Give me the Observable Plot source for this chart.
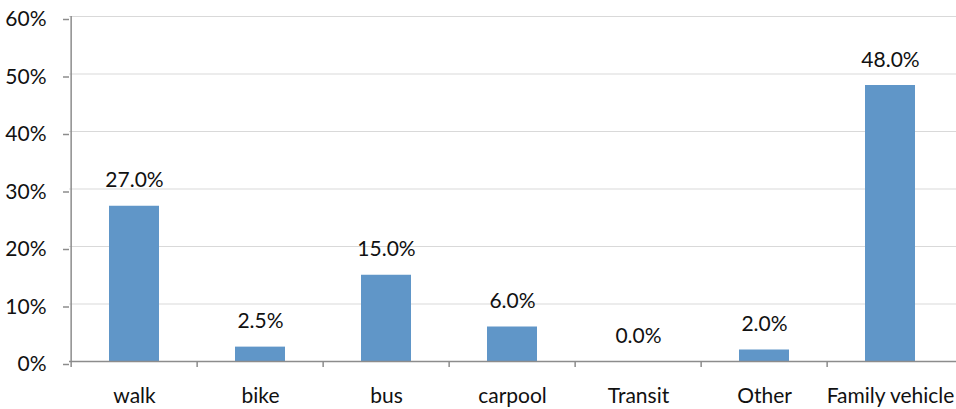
<!DOCTYPE html>
<html>
<head>
<meta charset="utf-8">
<script src="https://cdn.jsdelivr.net/npm/d3@7"></script>
<script src="https://cdn.jsdelivr.net/npm/@observablehq/plot@0.6"></script>
<style>
  html, body { margin: 0; padding: 0; background: #fff; }
  svg { display: block; }
</style>
</head>
<body>
<div id="chart"></div>
<script>
const categories = ["walk", "bike", "bus", "carpool", "Transit", "Other", "Family vehicle"];
const values = [27.0, 2.5, 15.0, 6.0, 0.0, 2.0, 48.0];
const yTicks = [0, 10, 20, 30, 40, 50, 60];

const data = categories.map((c, i) => ({category: c, value: values[i]}));

const W = 956, H = 409;
const mL = 69, mR = 0, mT = 16, mB = 48;
const step = (W - mL - mR) / categories.length;
const font = "Lato, 'Liberation Sans Narrow', sans-serif";
const fs = 21;

const chart = Plot.plot({
  width: W,
  height: H,
  marginLeft: mL,
  marginRight: mR,
  marginTop: mT,
  marginBottom: mB,
  style: {fontFamily: font, fontSize: fs + "px", color: "#111", background: "#fff"},
  x: {domain: categories, paddingInner: 0.6, paddingOuter: 0.3, label: null},
  y: {domain: [0, 60], ticks: yTicks, label: null},
  marks: [
    Plot.gridY(yTicks.filter(d => d > 0), {stroke: "#d9d9d9", strokeOpacity: 1, strokeWidth: 1.2}),
    Plot.barY(data, {x: "category", y: "value", fill: "#6096c8"}),
    Plot.ruleY([0], {stroke: "#8c8c8c", strokeWidth: 1.5}),
    Plot.ruleX([categories[0]], {y1: 0, y2: 60, dx: -step / 2, stroke: "#8c8c8c", strokeWidth: 1.5}),
    Plot.axisY({ticks: yTicks, tickSize: 6, tickPadding: 17, tickFormat: d => d + "%", stroke: "#8c8c8c", strokeWidth: 1.5, strokeOpacity: 1, fontSize: fs, fill: "#111", dy: 3, label: null}),
    Plot.axisX({tickSize: 6, tickFormat: null, dx: -step / 2, stroke: "#8c8c8c", strokeWidth: 1.5, strokeOpacity: 1, label: null}),
    Plot.axisX({tickSize: 0, tickPadding: 27, fontSize: fs, fill: "#111", label: null}),
    Plot.text(data, {x: "category", y: "value", text: d => d.value.toFixed(1) + "%", lineAnchor: "bottom", dy: -19, fontSize: fs, fill: "#111"})
  ]
});

document.getElementById("chart").appendChild(chart);
</script>
</body>
</html>
